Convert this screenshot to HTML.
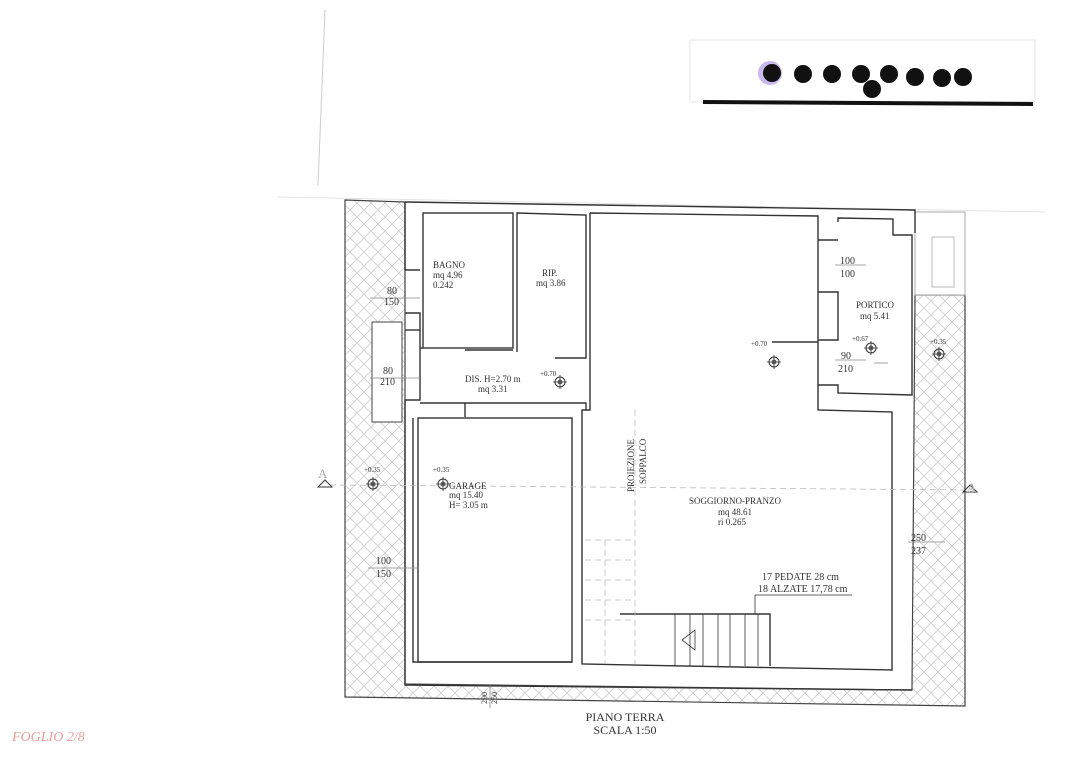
<!DOCTYPE html>
<html><head><meta charset="utf-8"><style>
html,body{margin:0;padding:0;background:#fff;width:1086px;height:768px;overflow:hidden}
svg text{font-family:"Liberation Serif",serif;fill:#333}
</style></head><body>
<svg width="1086" height="768" viewBox="0 0 1086 768" xmlns="http://www.w3.org/2000/svg">
<defs>
<pattern id="h" width="14" height="14" patternUnits="userSpaceOnUse">
<path d="M0 0L14 14M14 0L0 14" stroke="#ccc" stroke-width="0.8"/>
</pattern>
<g id="lv"><circle r="5" fill="none" stroke="#333"/><path d="M-7 0H7M0 -7V7" stroke="#333" stroke-width="0.8"/><circle r="2.5" fill="#555"/></g>
</defs>
<line x1="325" y1="10" x2="318" y2="185" stroke="#ccc" stroke-width="1"/>
<line x1="278" y1="197" x2="1045" y2="212" stroke="#e3e3e3" stroke-width="1"/>
<rect x="690" y="40" width="345" height="62" fill="none" stroke="#e6e6e6"/>
<line x1="703" y1="102" x2="1033" y2="104" stroke="#111" stroke-width="4"/>
<circle cx="770" cy="73" r="12" fill="#c8b8ee"/>
<circle cx="772" cy="73" r="9" fill="#111"/>
<g fill="#111">
<circle cx="803" cy="74" r="9"/><circle cx="832" cy="74" r="9"/><circle cx="861" cy="74" r="9"/>
<circle cx="889" cy="74" r="9"/><circle cx="915" cy="77" r="9"/><circle cx="942" cy="78" r="9"/>
<circle cx="963" cy="77" r="9"/><circle cx="872" cy="89" r="9"/>
</g>
<path d="M345 200 L405 202 L405 684 L912 690 L915 295 L965 295 L965 706 L345 697 Z" fill="url(#h)" stroke="#444" stroke-width="1.2"/>
<rect x="915" y="212" width="50" height="83" fill="#fff" stroke="#aaa"/>
<rect x="932" y="237" width="22" height="50" fill="none" stroke="#bbb"/>
<rect x="372" y="322" width="30" height="100" fill="#fff" stroke="#444"/>
<g fill="none" stroke="#333" stroke-width="1.4">
<path d="M405 202 L915 210 L915 233"/>
<path d="M405 202 L405 270 L420 270"/>
<path d="M405 313 L420 313 L420 400 L405 400 L405 685 L912 690"/>
<path d="M405 330 L420 330"/>
<rect x="423" y="213" width="90" height="135"/>
<path d="M423 348 L420 348"/>
<path d="M517 352 L517 213 L586 215 L586 358 L555 358"/>
<path d="M513 350 L465 350"/>
<path d="M420 403 L586 403 L586 410"/>
<path d="M465 403 L465 417"/>
<path d="M590 213 L818 216 L818 410 L892 412 L892 670 L582 664 L582 410 L590 410 L590 213"/>
<path d="M838 222 L838 218 L893 219 L893 235 L912 235 L912 395 L838 393 L838 385 L818 385"/>
<path d="M818 240 L838 240"/>
<path d="M818 292 L838 292 L838 340 L818 340"/>
<rect x="418" y="418" width="154" height="244"/>
<path d="M413 418 L413 662 L572 662"/>
<path d="M620 614 L770 614 L770 666"/>
<path d="M675 614 L675 666 M690 614 L690 666 M703 614 L703 666 M718 614 L718 666 M730 614 L730 666 M745 614 L745 666 M758 614 L758 666" stroke-width="0.8"/>
<path d="M682 640 L695 630 L695 650 Z" stroke-width="0.8"/>
<path d="M755 595 L755 614 M755 595 L852 595" stroke-width="0.8"/>
<path d="M772 342 L818 342" stroke-width="1.5"/>
</g>
<g stroke="#bbb" stroke-width="0.8" fill="none" stroke-dasharray="6 4">
<line x1="330" y1="485" x2="975" y2="490"/>
<line x1="635" y1="410" x2="635" y2="664"/>
<path d="M585 540 L635 540 M585 560 L635 560 M585 580 L635 580 M585 600 L635 600 M585 620 L635 620 M605 540 L605 664"/>
</g>
<g stroke="#888" stroke-width="0.8" fill="none">
<line x1="370" y1="298" x2="420" y2="298"/><line x1="370" y1="378" x2="420" y2="378"/>
<line x1="368" y1="568" x2="418" y2="568"/><line x1="908" y1="542" x2="945" y2="542"/>
<line x1="835" y1="265" x2="866" y2="265"/><line x1="835" y1="360" x2="866" y2="360"/>
<line x1="490" y1="685" x2="490" y2="708"/><line x1="874" y1="363" x2="888" y2="363"/>
</g>
<use href="#lv" x="560" y="382"/><use href="#lv" x="774" y="362"/><use href="#lv" x="871" y="348"/>
<use href="#lv" x="939" y="354"/><use href="#lv" x="373" y="484"/><use href="#lv" x="443" y="484"/>
<path d="M318 487 L325 480 L332 487 Z M963 492 L970 485 L977 492 Z" fill="none" stroke="#333"/>
<g font-size="9">
<text x="433" y="268">BAGNO</text><text x="433" y="278">mq 4.96</text><text x="433" y="288">0.242</text>
<text x="542" y="276">RIP.</text><text x="536" y="286">mq 3.86</text>
<text x="465" y="382">DIS. H=2.70 m</text><text x="478" y="392">mq 3.31</text>
<text x="449" y="489">GARAGE</text><text x="449" y="498">mq 15.40</text><text x="449" y="508">H= 3.05 m</text>
<text x="689" y="504">SOGGIORNO-PRANZO</text><text x="718" y="515">mq 48.61</text><text x="718" y="525">ri 0.265</text>
<text x="856" y="308">PORTICO</text><text x="860" y="319">mq 5.41</text>
<text transform="translate(634,492) rotate(-90)">PROIEZIONE</text>
<text transform="translate(646,484) rotate(-90)">SOPPALCO</text>
</g>
<g font-size="7">
<text x="540" y="376">+0.70</text><text x="751" y="346">+0.70</text><text x="852" y="341">+0.67</text>
<text x="930" y="344">+0.35</text><text x="364" y="472">+0.35</text><text x="433" y="472">+0.35</text>
</g>
<g font-size="10">
<text x="387" y="294">80</text><text x="384" y="305">150</text>
<text x="383" y="374">80</text><text x="380" y="385">210</text>
<text x="376" y="564">100</text><text x="376" y="577">150</text>
<text x="840" y="264">100</text><text x="840" y="277">100</text>
<text x="841" y="359">90</text><text x="838" y="372">210</text>
<text x="911" y="541">250</text><text x="911" y="554">237</text>
<text x="762" y="580">17 PEDATE 28 cm</text><text x="758" y="592">18 ALZATE 17,78 cm</text>
<text transform="translate(487,704) rotate(-90)" font-size="8">290</text>
<text transform="translate(497,704) rotate(-90)" font-size="8">250</text>
<text x="967" y="492" font-size="13" style="fill:#aaa">A</text>
<text x="318" y="478" style="fill:#aaa" font-size="13">A</text>
</g>
<text x="625" y="721" font-size="12" text-anchor="middle">PIANO TERRA</text>
<text x="625" y="734" font-size="12" text-anchor="middle">SCALA 1:50</text>
<text x="12" y="741" font-size="14" font-style="italic" style="fill:#e8a0a0">FOGLIO 2/8</text>
</svg>
</body></html>
